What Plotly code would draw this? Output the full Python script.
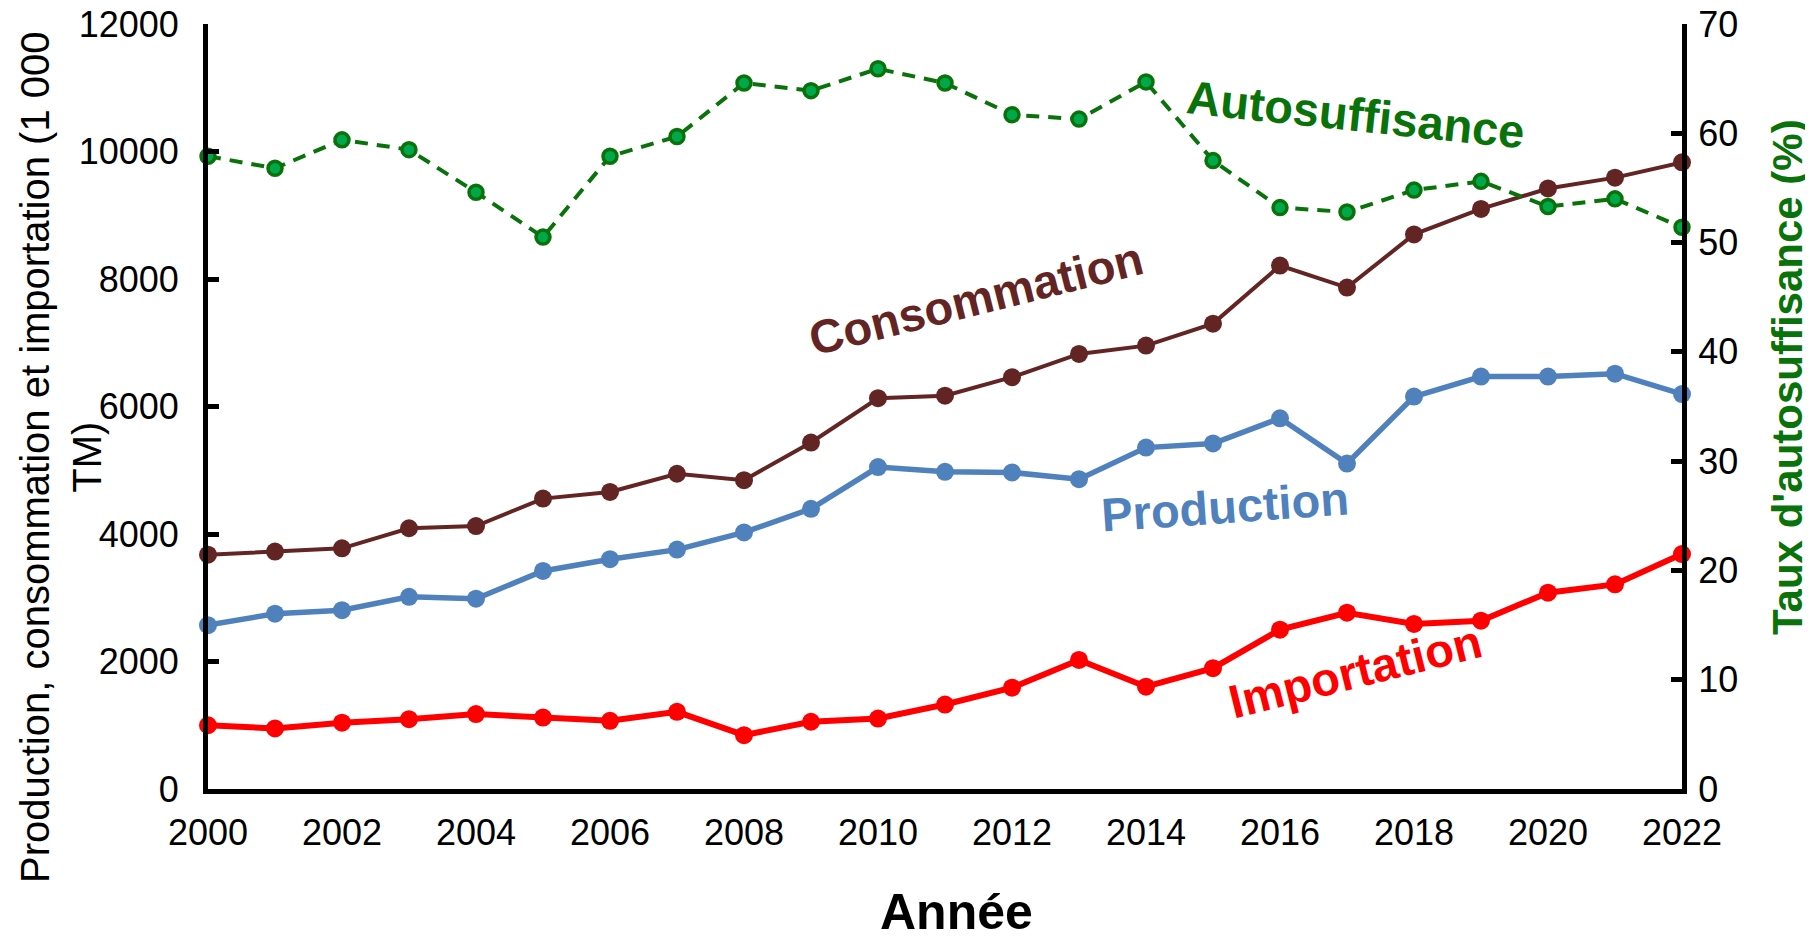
import plotly.graph_objects as go

years = list(range(2000, 2023))
consommation = [3675, 3725, 3775, 4090, 4125, 4555, 4660, 4945, 4845, 5435, 6130, 6170,
                6460, 6825, 6955, 7300, 8210, 7865, 8700, 9100, 9420, 9590, 9830]
production = [2570, 2750, 2805, 3015, 2985, 3420, 3605, 3755, 4025, 4395, 5050, 4975,
              4965, 4860, 5355, 5420, 5815, 5105, 6155, 6470, 6470, 6515, 6195]
importation = [1000, 950, 1040, 1095, 1175, 1120, 1070, 1210, 845, 1055, 1105, 1325,
               1590, 2025, 1605, 1895, 2500, 2765, 2590, 2640, 3080, 3210, 3685]
autosuffisance = [57.9, 56.8, 59.4, 58.5, 54.6, 50.5, 57.9, 59.7, 64.6, 63.9, 65.9, 64.6,
                  61.7, 61.3, 64.7, 57.5, 53.2, 52.8, 54.8, 55.6, 53.3, 54.0, 51.4]
x_ticks = list(range(2000, 2023, 2))
left_ticks = [0, 2000, 4000, 6000, 8000, 10000, 12000]
right_ticks = [0, 10, 20, 30, 40, 50, 60, 70]

FONT = "Liberation Sans, Arial, sans-serif"
C_CONS = "#632523"
C_PROD = "#4F81BD"
C_IMP = "#FF0000"
C_AUTO = "#0A720A"

fig = go.Figure()
fig.add_trace(go.Scatter(x=years, y=consommation, mode="lines+markers", name="Consommation",
                         line=dict(color=C_CONS, width=4), marker=dict(size=18, color=C_CONS),
                         cliponaxis=False))
fig.add_trace(go.Scatter(x=years, y=production, mode="lines+markers", name="Production",
                         line=dict(color=C_PROD, width=5.5), marker=dict(size=18, color=C_PROD),
                         cliponaxis=False))
fig.add_trace(go.Scatter(x=years, y=importation, mode="lines+markers", name="Importation",
                         line=dict(color=C_IMP, width=6), marker=dict(size=18, color=C_IMP),
                         cliponaxis=False))
fig.add_trace(go.Scatter(x=years, y=autosuffisance, mode="lines+markers", name="Autosuffisance",
                         yaxis="y2",
                         line=dict(color=C_AUTO, width=4, dash="13px,9px"),
                         marker=dict(size=14, color="#00A84A", line=dict(color=C_AUTO, width=3.5)),
                         cliponaxis=False))

tickfont = dict(family=FONT, size=36, color="black")

# The page body adds an 8 px offset, so the figure is 8 px smaller and margins shifted.
fig.update_layout(
    width=1805, height=933,
    margin=dict(l=200, r=131, t=16, b=152, autoexpand=False),
    paper_bgcolor="white", plot_bgcolor="white",
    showlegend=False,
    xaxis=dict(range=[2000, 2022], tickvals=x_ticks, showgrid=False, zeroline=False,
               showline=True, linewidth=5, linecolor="black", ticks="",
               tickfont=tickfont, ticklabelstandoff=8, ticklabeloverflow="allow"),
    yaxis=dict(range=[0, 12000], tickvals=left_ticks, tickformat="d",
               showgrid=False, zeroline=False,
               showline=True, linewidth=5, linecolor="black", ticks="inside",
               ticklen=11, tickwidth=5, tickcolor="black",
               tickfont=tickfont, ticklabelstandoff=17, ticklabeloverflow="allow"),
    yaxis2=dict(range=[0, 70], tickvals=right_ticks, tickformat="d", overlaying="y", side="right",
                showgrid=False, zeroline=False,
                showline=True, linewidth=5, linecolor="black", ticks="inside",
                ticklen=11, tickwidth=5, tickcolor="black",
                tickfont=tickfont, ticklabelstandoff=4, ticklabeloverflow="allow"),
)

def ann_font(color, size, bold=True):
    return dict(family=FONT, size=size, color=color, weight="bold" if bold else "normal")

annotations = [
    dict(text="Consommation", x=0.521, y=0.641, textangle=-14, font=ann_font(C_CONS, 47)),
    dict(text="Production", x=0.690, y=0.369, textangle=-4, font=ann_font(C_PROD, 47)),
    dict(text="Importation", x=0.778, y=0.153, textangle=-14, font=ann_font(C_IMP, 47)),
    dict(text="Autosuffisance", x=0.779, y=0.882, textangle=6, font=ann_font(C_AUTO, 47)),
    dict(text="Production, consommation et importation (1 000<br>TM)", x=-0.0997, y=0.434,
         textangle=-90, font=ann_font("black", 40, bold=False)),
    dict(text="Taux d'autosuffisance (%)", x=1.0719, y=0.5386, textangle=-90,
         font=ann_font(C_AUTO, 42)),
]
for a in annotations:
    fig.add_annotation(xref="paper", yref="paper", showarrow=False,
                       xanchor="center", yanchor="middle", **a)

fig.add_annotation(text="Année", xref="paper", yref="paper", x=0.508, y=-0.1987,
                   xanchor="center", yanchor="bottom", showarrow=False, borderpad=0,
                   font=ann_font("black", 50))

fig.write_html("out.html")
